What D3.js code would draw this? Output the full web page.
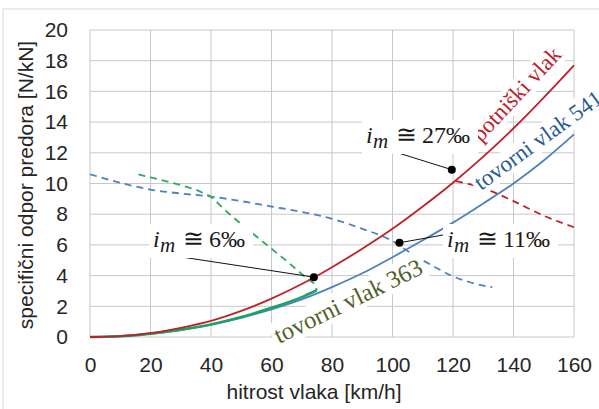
<!DOCTYPE html>
<html>
<head>
<meta charset="utf-8">
<script src="https://cdn.jsdelivr.net/npm/d3@7"></script>
<style>
  body { margin: 0; background: #fff; }
  svg { display: block; }
</style>
</head>
<body>
<div id="chart"></div>
<script>
// data
const xTicks = [0, 20, 40, 60, 80, 100, 120, 140, 160];
const yTicks = [0, 2, 4, 6, 8, 10, 12, 14, 16, 18, 20];

const potniskiV = [0, 10, 20, 30, 40, 50, 60, 70, 80, 90, 100, 110, 120, 130, 140, 150, 160];
const potniskiR = [0, 0.06, 0.25, 0.6, 1.05, 1.7, 2.5, 3.45, 4.55, 5.75, 7.05, 8.5, 10.05, 11.75, 13.6, 15.6, 17.7];

const potniskiDashV = [121, 130, 140, 150, 160];
const potniskiDashR = [10.15, 9.7, 8.85, 7.9, 7.15];

const tovorni541V = [0, 10, 20, 30, 40, 50, 60, 70, 80, 90, 100, 110, 120, 130, 140, 150, 160];
const tovorni541R = [0, 0.05, 0.2, 0.45, 0.8, 1.25, 1.8, 2.45, 3.25, 4.15, 5.2, 6.3, 7.45, 8.7, 10.0, 11.5, 13.2];

const tovorni541DashV = [0, 10, 20, 30, 40, 50, 60, 70, 80, 90, 100, 105, 110, 115, 120, 125, 130, 133];
const tovorni541DashR = [10.6, 10.05, 9.6, 9.35, 9.15, 8.85, 8.5, 8.15, 7.7, 7.05, 6.25, 5.6, 5.0, 4.45, 3.95, 3.6, 3.35, 3.25];

const tovorni363V = [0, 10, 20, 30, 40, 50, 60, 70, 75];
const tovorni363R = [0, 0.05, 0.22, 0.48, 0.82, 1.3, 1.9, 2.6, 3.05];

const tovorni363DashV = [16, 20, 25, 30, 35, 40, 45, 50, 55, 60, 65, 70, 74, 75];
const tovorni363DashR = [10.6, 10.4, 10.15, 9.9, 9.6, 9.15, 8.2, 7.35, 6.55, 5.75, 4.95, 4.1, 3.5, 3.05];

// annotated points: [speed, resistance]
const dots = [[119.6, 10.9], [74, 3.9], [102.3, 6.14]];
const labelVals = ["27", "6", "11"];

// 1: SIZES
const W = 599, H = 409;
const margin = { top: 30, right: 25, bottom: 72, left: 90 },
      width = W - margin.left - margin.right,
      height = H - margin.top - margin.bottom;

const svg = d3.select("#chart").append("svg")
    .attr("width", W)
    .attr("height", H);

// outer frame
svg.append("rect")
    .attr("x", 3).attr("y", 9)
    .attr("width", W + 10).attr("height", H + 10)
    .attr("fill", "none")
    .attr("stroke", "#d9d9d9");

const g = svg.append("g")
    .attr("transform", `translate(${margin.left},${margin.top})`);

// 2: SCALES
const x = d3.scaleLinear().domain([0, 160]).range([0, width]);
const y = d3.scaleLinear().domain([0, 20]).range([height, 0]);

// 3: GRID
g.append("g")
    .selectAll("line")
    .data(xTicks)
    .join("line")
    .attr("x1", d => x(d)).attr("x2", d => x(d))
    .attr("y1", 0).attr("y2", height)
    .attr("stroke", "#c8c8c8");

g.append("g")
    .selectAll("line")
    .data(yTicks)
    .join("line")
    .attr("x1", 0).attr("x2", width)
    .attr("y1", d => y(d)).attr("y2", d => y(d))
    .attr("stroke", "#c8c8c8");

// 4: AXES (labels only, grid is the frame)
const sans = "'Liberation Sans', Arial, sans-serif";
const xAxis = g.append("g")
    .attr("transform", `translate(0,${height})`)
    .call(d3.axisBottom(x).tickValues(xTicks).tickSize(0).tickPadding(20));
const yAxis = g.append("g")
    .call(d3.axisLeft(y).tickValues(yTicks).tickSize(0).tickPadding(22));
[xAxis, yAxis].forEach(a => {
    a.select(".domain").remove();
    a.selectAll("text")
        .attr("fill", "#262626")
        .style("font-family", sans)
        .style("font-size", "21px");
});

// 5: LINES
const zip = (a, b) => a.map((v, i) => [v, b[i]]);

const series = [
    { pts: zip(tovorni541DashV, tovorni541DashR), color: "#4f81bd", dash: "7,5", w: 1.8, curve: d3.curveMonotoneX },
    { pts: zip(tovorni363DashV, tovorni363DashR), color: "#2eaa5f", dash: "7,5", w: 1.8, curve: d3.curveLinear },
    { pts: zip(potniskiDashV, potniskiDashR), color: "#c0202a", dash: "7,5", w: 1.8, curve: d3.curveMonotoneX },
    { pts: zip(tovorni541V, tovorni541R), color: "#4f81bd", dash: null, w: 1.8, curve: d3.curveMonotoneX },
    { pts: zip(tovorni363V, tovorni363R), color: "#1aa366", dash: null, w: 2.6, curve: d3.curveMonotoneX },
    { pts: zip(potniskiV, potniskiR), color: "#c0202a", dash: null, w: 1.8, curve: d3.curveMonotoneX }
];

g.selectAll("path.series")
    .data(series)
    .join("path")
    .attr("class", "series")
    .attr("d", d => d3.line().x(p => x(p[0])).y(p => y(p[1])).curve(d.curve)(d.pts))
    .attr("fill", "none")
    .attr("stroke", d => d.color)
    .attr("stroke-width", d => d.w)
    .attr("stroke-dasharray", d => d.dash);

// 6: LABELS WITH WHITE BOXES
function boxedLabel(parent, px, py, angle, build, pad) {
    const lg = parent.append("g")
        .attr("transform", `translate(${px},${py}) rotate(${angle})`);
    const rect = lg.append("rect").attr("fill", "#fff");
    const t = lg.append("text");
    build(t);
    const b = t.node().getBBox();
    rect.attr("x", b.x - pad[0]).attr("y", b.y - pad[1])
        .attr("width", b.width + pad[0] + pad[2])
        .attr("height", b.height + pad[1] + pad[3]);
    return lg;
}

const serif = "'Liberation Serif', 'Times New Roman', serif";

function curveLabel(txt, color, size) {
    return t => t.text(txt)
        .attr("fill", color)
        .style("font-family", serif)
        .style("font-size", size + "px");
}

boxedLabel(svg, 481, 143, -47, curveLabel("potniški vlak", "#c0202a", 23), [3, 0, 3, 0]);
boxedLabel(svg, 481, 191, -36, curveLabel("tovorni vlak 541", "#2a5a96", 23), [3, 0, 3, 0]);
boxedLabel(svg, 279, 344, -26, curveLabel("tovorni vlak 363", "#4f6228", 24.5), [3, 0, 3, 0]);

function imLabel(val) {
    return t => {
        t.attr("fill", "#1a1a1a")
            .style("font-family", serif)
            .style("font-size", "24px");
        t.append("tspan").attr("x", 0).attr("font-style", "italic").text("i");
        t.append("tspan").attr("x", 7).attr("dy", 5).attr("font-style", "italic").style("font-size", "21px").text("m");
        t.append("tspan").attr("x", 30).attr("dy", -5).style("font-size", "25px").text("\u2245");
        t.append("tspan").attr("x", 56).text(`${val}\u2030`);
    };
}

const labelPos = [[366, 143], [153, 247], [447, 247]];
labelPos.forEach((p, i) => boxedLabel(svg, p[0], p[1], 0, imLabel(labelVals[i]), [4, 1, 8, 1]));

// 7: LEADERS AND DOTS
const leaderFrom = [[392, 151], [175, 256], [443, 235]];
g.selectAll("line.leader")
    .data(dots)
    .join("line")
    .attr("class", "leader")
    .attr("x1", (d, i) => leaderFrom[i][0] - margin.left)
    .attr("y1", (d, i) => leaderFrom[i][1] - margin.top)
    .attr("x2", d => x(d[0]))
    .attr("y2", d => y(d[1]))
    .attr("stroke", "#111")
    .attr("stroke-width", 1);

g.selectAll("circle.dot")
    .data(dots)
    .join("circle")
    .attr("class", "dot")
    .attr("cx", d => x(d[0]))
    .attr("cy", d => y(d[1]))
    .attr("r", 4)
    .attr("fill", "#000");

// 8: AXIS TITLES
svg.append("text")
    .attr("x", 314)
    .attr("y", 399)
    .attr("text-anchor", "middle")
    .attr("fill", "#262626")
    .style("font-family", sans)
    .style("font-size", "21px")
    .text("hitrost vlaka [km/h]");

svg.append("text")
    .attr("transform", "translate(33,185) rotate(-90)")
    .attr("text-anchor", "middle")
    .attr("fill", "#262626")
    .style("font-family", sans)
    .style("font-size", "21px")
    .text("specifični odpor predora [N/kN]");
</script>
</body>
</html>
